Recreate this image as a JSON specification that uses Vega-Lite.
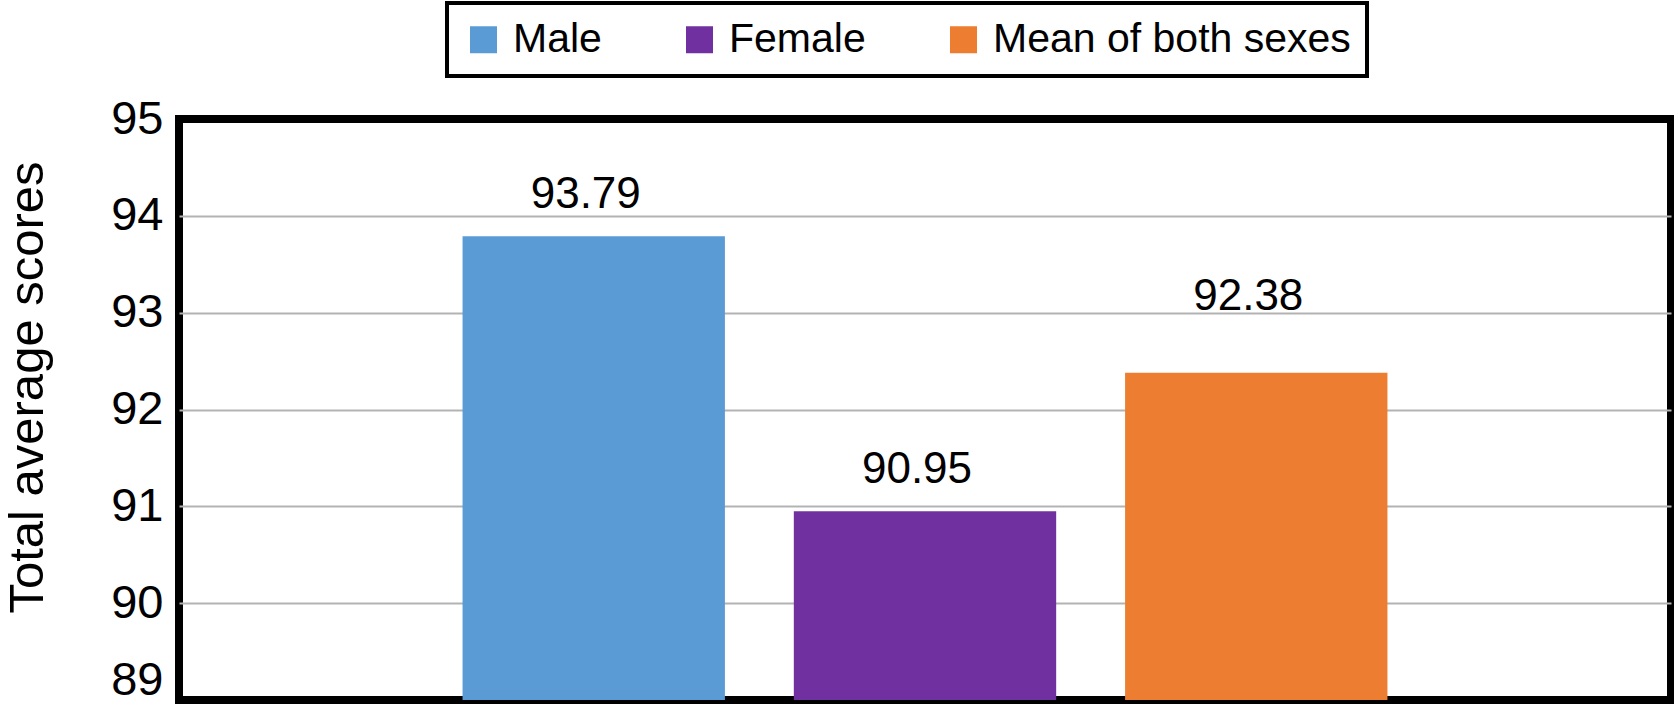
{
  "$schema": "https://vega.github.io/schema/vega-lite/v6.json",
  "width": 1492,
  "height": 581,
  "autosize": {"type": "none"},
  "padding": {"left": 179, "top": 119, "right": 3, "bottom": 5},
  "background": "white",
  "config": {
    "view": {"stroke": "black", "strokeWidth": 8},
    "font": "Liberation Sans"
  },
  "data": {
    "values": [
      {"series": "Male", "score": 93.79},
      {"series": "Female", "score": 90.95},
      {"series": "Mean of both sexes", "score": 92.38}
    ]
  },
  "encoding": {
    "x": {
      "field": "series",
      "type": "nominal",
      "sort": null,
      "axis": null,
      "scale": {"paddingInner": 0.208, "paddingOuter": 0.856}
    },
    "y": {
      "field": "score",
      "type": "quantitative",
      "scale": {"domain": [89, 95], "nice": false, "zero": false},
      "axis": {
        "values": [89, 90, 91, 92, 93, 94, 95],
        "domain": false,
        "ticks": false,
        "grid": true,
        "gridColor": "#b3b3b3",
        "gridWidth": 2,
        "gridOpacity": {"condition": {"test": "datum.value === 89 || datum.value === 95", "value": 0}, "value": 1},
        "labelFontSize": 47,
        "labelColor": "black",
        "labelPadding": 16,
        "labelBaseline": {"condition": {"test": "datum.value === 89", "value": "bottom"}, "value": "middle"},
        "labelOffset": {"condition": {"test": "datum.value === 89", "value": 4}, "value": 0},
        "title": "Total average scores",
        "titleFontSize": 49,
        "titleFontWeight": "normal",
        "titleColor": "black",
        "titlePadding": 58,
        "titleY": 268
      }
    }
  },
  "layer": [
    {
      "mark": {"type": "bar"},
      "encoding": {
        "y2": {"datum": 89},
        "color": {
          "field": "series",
          "type": "nominal",
          "sort": null,
          "scale": {
            "domain": ["Male", "Female", "Mean of both sexes"],
            "range": ["#5B9BD5", "#7030A0", "#ED7D31"]
          },
          "legend": {
            "title": null,
            "orient": "none",
            "direction": "horizontal",
            "legendX": 268,
            "legendY": -116,
            "symbolType": "square",
            "symbolSize": 729,
            "symbolStrokeWidth": 0,
            "symbolOpacity": 1,
            "labelFontSize": 41,
            "labelColor": "black",
            "labelLimit": 0,
            "labelOffset": 9,
            "columnPadding": 77,
            "padding": 16,
            "strokeColor": "black",
            "fillColor": "white",
            "encode": {"legend": {"update": {"strokeWidth": {"value": 4}}}}
          }
        }
      }
    },
    {
      "mark": {
        "type": "text",
        "fontSize": 44,
        "color": "black",
        "baseline": "middle",
        "dx": -8,
        "dy": {"expr": "datum.series === 'Mean of both sexes' ? -76 : -41"}
      },
      "encoding": {
        "text": {"field": "score", "type": "quantitative", "format": ".2f"}
      }
    }
  ]
}
